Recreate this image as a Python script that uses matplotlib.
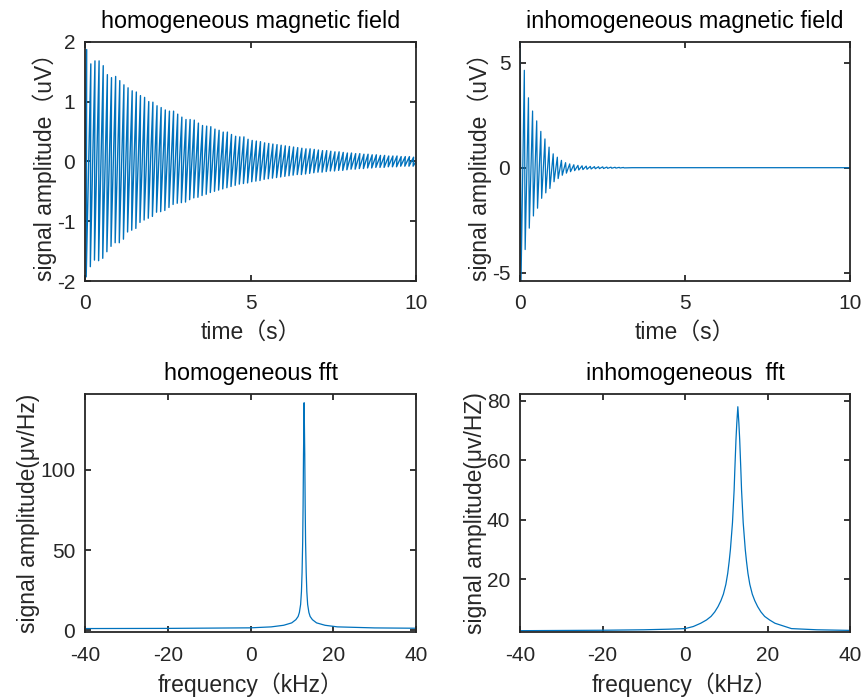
import matplotlib
matplotlib.use('Agg')
import matplotlib.pyplot as plt
import numpy as np

plt.rcParams['font.family'] = ['Liberation Sans', 'Noto Sans CJK SC', 'DejaVu Sans']
plt.rcParams['axes.unicode_minus'] = False

# 均匀磁场：每个周期的正、负峰值 (uV)，周期约 0.125 s
homo_period = 0.125
homo_upper = [1.87, 1.63, 1.68, 1.68, 1.60, 1.45, 1.40, 1.42,
              1.35, 1.28, 1.23, 1.18, 1.16, 1.10, 1.07, 1.00,
              0.99, 0.93, 0.90, 0.86, 0.84, 0.84, 0.79, 0.74,
              0.70, 0.70, 0.69, 0.64, 0.60, 0.59, 0.58, 0.54,
              0.52, 0.49, 0.49, 0.45, 0.42, 0.41, 0.41, 0.37,
              0.35, 0.34, 0.33, 0.31, 0.30, 0.29, 0.28, 0.27,
              0.26, 0.25, 0.24, 0.23, 0.22, 0.21, 0.21, 0.20,
              0.19, 0.18, 0.18, 0.17, 0.16, 0.16, 0.15, 0.14,
              0.14, 0.13, 0.13, 0.12, 0.12, 0.11, 0.11, 0.10,
              0.10, 0.09, 0.09, 0.09, 0.08, 0.08, 0.08, 0.07]
homo_lower = [-1.93, -1.76, -1.65, -1.66, -1.62, -1.51, -1.42, -1.36,
              -1.36, -1.30, -1.18, -1.15, -1.12, -1.02, -0.98, -0.95,
              -0.92, -0.85, -0.84, -0.82, -0.77, -0.72, -0.70, -0.69,
              -0.68, -0.64, -0.61, -0.60, -0.57, -0.55, -0.52, -0.50,
              -0.48, -0.46, -0.44, -0.42, -0.40, -0.38, -0.37, -0.36,
              -0.34, -0.33, -0.32, -0.30, -0.29, -0.28, -0.27, -0.26,
              -0.25, -0.24, -0.23, -0.22, -0.22, -0.21, -0.20, -0.19,
              -0.18, -0.18, -0.17, -0.16, -0.16, -0.15, -0.15, -0.14,
              -0.13, -0.13, -0.12, -0.12, -0.11, -0.11, -0.10, -0.10,
              -0.10, -0.09, -0.09, -0.09, -0.08, -0.08, -0.08, -0.08]

# 非均匀磁场：正、负峰值 (uV)，之后信号为 0
inhomo_period = 0.125
inhomo_upper = [6.0, 4.64, 3.33, 2.70, 2.23, 1.73, 1.37, 0.98, 0.66, 0.50,
                0.35, 0.24, 0.18, 0.14, 0.11, 0.09, 0.075, 0.06, 0.05, 0.045,
                0.04, 0.03, 0.025, 0.02, 0.015, 0.01]
inhomo_lower = [-5.4, -3.9, -2.88, -2.30, -1.93, -1.46, -1.20, -0.99, -0.67, -0.52,
                -0.36, -0.26, -0.19, -0.14, -0.11, -0.09, -0.075, -0.06, -0.05, -0.045,
                -0.04, -0.03, -0.025, -0.02, -0.015, -0.01]
inhomo_tail_t = [3.4, 10.0]
inhomo_tail_v = [0.0, 0.0]

# 频谱 (kHz, μV/Hz)
homo_freq = [-40, -20, 0, 5, 8, 9.95, 10.95, 11.5, 11.8, 12.1, 12.3, 12.45, 12.6,
             12.7, 12.8, 12.95, 13.1, 13.2, 13.3, 13.45, 13.6, 13.8, 14.1, 14.4,
             14.95, 15.95, 18, 21, 30, 40]
homo_amp = [0.95, 1.05, 1.4, 2.0, 3.0, 4.5, 6.5, 8.5, 11, 16, 24, 36, 55,
            78, 110, 142, 110, 78, 55, 36, 24, 16, 11, 8.5,
            6.5, 4.5, 3.0, 2.0, 1.35, 1.15]

inhomo_freq = [-40, -20, -10, -4, 0, 2, 3.8, 5.2, 6.3, 7.2, 8.0, 8.7, 9.3, 9.9,
               10.35, 10.7, 11.0, 11.25, 11.5, 11.7, 11.9, 12.05, 12.2, 12.35,
               12.55, 12.8, 13.05, 13.25, 13.4, 13.55, 13.7, 13.9, 14.1, 14.35,
               14.6, 14.9, 15.25, 15.7, 16.3, 16.9, 17.6, 18.4, 19.3, 20.5,
               21.8, 25.8, 32, 40]
inhomo_amp = [2.7, 2.85, 3.0, 3.2, 3.4, 4.1, 5.2, 6.3, 7.5, 9.0, 10.8, 12.8, 15,
              18.3, 22, 26, 30, 34.5, 39, 44.5, 50, 56, 61.5, 67,
              72.5, 78, 72.5, 67, 61.5, 56, 50, 44.5, 39, 34.5,
              30, 26, 22, 18.3, 15, 12.8, 10.8, 9.0, 7.5, 6.3,
              5.2, 3.4, 3.0, 2.8]


def trace(period, upper, lower, t_up, t_low):
    k = np.arange(len(upper)) * period
    t = np.column_stack([k + t_up, k + t_low]).ravel()
    v = np.column_stack([upper, lower]).ravel()
    return t, v


line_c = '#0072BD'
txt_c = '#262626'
tick_fs = 15
lab_fs = 16.5
title_fs = 16.8

fig = plt.figure(figsize=(8.65, 6.97), dpi=100)
ax1 = fig.add_axes([0.0983, 0.5968, 0.3827, 0.3433])
ax2 = fig.add_axes([0.6012, 0.5968, 0.3815, 0.3433])
ax3 = fig.add_axes([0.0983, 0.0928, 0.3827, 0.3420])
ax4 = fig.add_axes([0.6012, 0.0928, 0.3815, 0.3420])

t1, v1 = trace(homo_period, homo_upper, homo_lower, 0.05, 0.035)
t1 = np.concatenate([[0.0], t1, [10.0]])
v1 = np.concatenate([[0.0], v1, [0.0]])
ax1.plot(t1, v1, color=line_c, lw=1.0)
ax1.set_xlim(0, 10)
ax1.set_ylim(-2, 2)
ax1.set_xticks([0, 5, 10])
ax1.set_yticks([-2, -1, 0, 1, 2])
ax1.set_title('homogeneous magnetic field')
ax1.set_xlabel('time（s）')
ax1.set_ylabel('signal amplitude（uV）')

t2, v2 = trace(inhomo_period, inhomo_upper, inhomo_lower, 0.005, 0.03)
t2 = np.concatenate([t2, inhomo_tail_t])
v2 = np.concatenate([v2, inhomo_tail_v])
ax2.plot(t2, v2, color=line_c, lw=0.9)
ax2.set_xlim(0, 10)
ax2.set_ylim(-5.4, 6.0)
ax2.set_xticks([0, 5, 10])
ax2.set_yticks([-5, 0, 5])
ax2.set_title('inhomogeneous magnetic field')
ax2.set_xlabel('time（s）')
ax2.set_ylabel('signal amplitude（uV）')

ax3.plot(homo_freq, homo_amp, color=line_c, lw=0.9)
ax3.set_xlim(-40, 40)
ax3.set_ylim(-1.4, 147.5)
ax3.set_xticks([-40, -20, 0, 20, 40])
ax3.set_yticks([0, 50, 100])
ax3.set_title('homogeneous fft')
ax3.set_xlabel('frequency（kHz）')
ax3.set_ylabel('signal amplitude(μv/Hz)')

ax4.plot(inhomo_freq, inhomo_amp, color=line_c, lw=0.9)
ax4.set_xlim(-40, 40)
ax4.set_ylim(2.15, 82.3)
ax4.set_xticks([-40, -20, 0, 20, 40])
ax4.set_yticks([20, 40, 60, 80])
ax4.set_title('inhomogeneous  fft')
ax4.set_xlabel('frequency（kHz）')
ax4.set_ylabel('signal amplitude(μv/HZ)')

for ax in (ax1, ax2, ax3, ax4):
    for s in ax.spines.values():
        s.set_color(txt_c)
        s.set_linewidth(1.3)
    ax.tick_params(direction='in', length=4, width=1.3, colors=txt_c,
                   labelsize=tick_fs, top=True, right=True)
    ax.tick_params(axis='x', pad=9.5)
    ax.tick_params(axis='y', pad=7)
    ax.set_title(ax.get_title(), fontsize=title_fs, color='black', pad=10)
    ax.xaxis.label.set_fontsize(lab_fs)
    ax.yaxis.label.set_fontsize(lab_fs)
    ax.xaxis.label.set_color(txt_c)
    ax.yaxis.label.set_color(txt_c)
    ax.xaxis.labelpad = 5.5
    ax.yaxis.labelpad = 0

plt.savefig('out.png', dpi=100)
plt.close()
